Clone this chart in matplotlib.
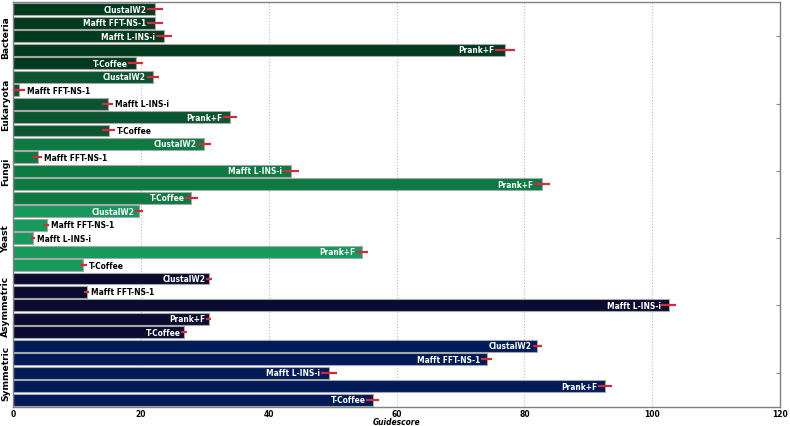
import matplotlib
matplotlib.use("Agg")
import matplotlib.pyplot as plt
import numpy as np
from matplotlib import font_manager as fm

groups = ["Bacteria", "Eukaryota", "Fungi", "Yeast", "Asymmetric", "Symmetric"]
methods = ["ClustalW2", "Mafft FFT-NS-1", "Mafft L-INS-i", "Prank+F", "T-Coffee"]
group_colors = ["#003a1f", "#0a5430", "#0c7a41", "#17995b", "#0b0b31", "#001b57"]

bacteria = [22.2, 22.2, 23.6, 77.0, 19.2]
bacteria_err = [1.2, 1.2, 1.3, 1.6, 1.2]
eukaryota = [21.9, 0.9, 14.8, 34.0, 15.0]
eukaryota_err = [1.0, 1.0, 0.9, 1.1, 1.0]
fungi = [29.9, 3.9, 43.5, 82.7, 27.9]
fungi_err = [1.0, 0.7, 1.25, 1.25, 1.0]
yeast = [19.7, 5.3, 3.1, 54.6, 11.0]
yeast_err = [0.6, 0.4, 0.3, 0.9, 0.5]
asymmetric = [30.7, 11.5, 102.6, 30.6, 26.8]
asymmetric_err = [0.5, 0.4, 1.15, 0.4, 0.5]
symmetric = [82.0, 74.1, 49.4, 92.6, 56.3]
symmetric_err = [0.7, 0.9, 1.25, 1.05, 1.0]

values = [bacteria, eukaryota, fungi, yeast, asymmetric, symmetric]
errors = [bacteria_err, eukaryota_err, fungi_err, yeast_err, asymmetric_err, symmetric_err]

fig = plt.figure(figsize=(7.9, 4.27), dpi=100)
ax = fig.add_axes([13/790, 1-408/427, (780-13)/790, (408-3)/427])

lab_font = dict(fontsize=6.0, fontweight="bold", fontstretch="condensed")

n = len(methods)
for gi, g in enumerate(groups):
    pos = np.arange(n) + gi * n
    ax.barh(pos, values[gi], height=0.88, color=group_colors[gi],
            edgecolor="#a8a8a8", linewidth=0.8, zorder=2)
    ax.errorbar(values[gi], pos, xerr=errors[gi], fmt="none",
                ecolor="#d9283a", elinewidth=1.6, capsize=0, zorder=3)
    for v, e, p, m in zip(values[gi], errors[gi], pos, methods):
        if v > 17:
            ax.text(v - e - 0.1, p, m, ha="right", va="center", color="white",
                    zorder=4, **lab_font)
        else:
            ax.text(v + e + 0.3, p, m, ha="left", va="center", color="black",
                    zorder=4, **lab_font)

ax.set_xlim(0, 120)
ax.set_ylim(n * len(groups) - 0.45, -0.55)
ax.set_yticks([gi * n + 2 for gi in range(len(groups))])
ax.set_yticklabels(groups, rotation=90, va="center", fontsize=6.6, fontweight="bold")
ax.set_xticks([0, 20, 40, 60, 80, 100, 120])
ax.set_xticklabels(["0", "20", "40", "60", "80", "100", "120"], fontsize=6.0,
                   fontweight="bold", fontstretch="condensed")
ax.tick_params(axis="y", direction="in", length=3, pad=2, right=True, left=True, color="#888888")
ax.tick_params(axis="x", direction="in", length=0, pad=1.5)
ax.xaxis.grid(True, linestyle=":", color="#bbbbbb", linewidth=0.8, zorder=0)
ax.set_axisbelow(True)
for s in ax.spines.values():
    s.set_color("#808080")
    s.set_linewidth(1.0)
ax.set_xlabel("Guidescore", fontsize=6.0, fontweight="bold", fontstyle="italic",
              fontstretch="condensed", labelpad=-1)

fig.savefig("out.png", dpi=100)
